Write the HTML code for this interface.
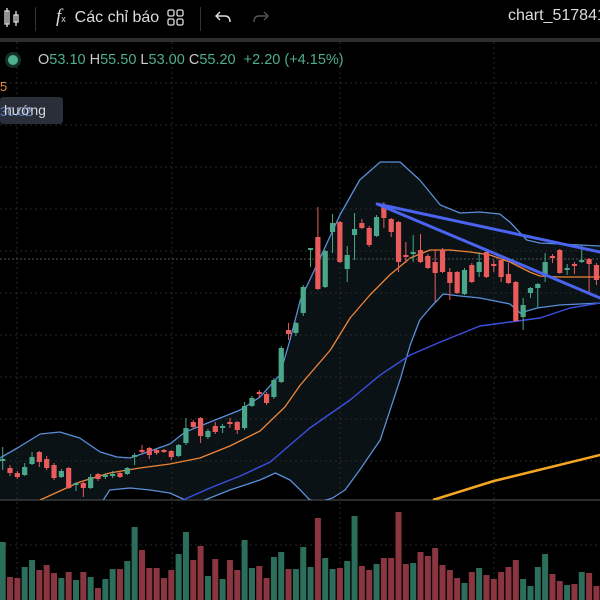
<!DOCTYPE html>
<html><head><meta charset="utf-8">
<style>
html,body{margin:0;padding:0;background:#000;width:600px;height:600px;overflow:hidden;font-family:"Liberation Sans","Noto Sans CJK SC",sans-serif}
#wrap{position:relative;width:600px;height:600px}
.t{position:absolute;white-space:nowrap}
</style></head>
<body>
<div id="wrap">
<svg id="chart" width="600" height="600" style="position:absolute;left:0;top:0"></svg>

<div class="t" style="left:0;top:0;width:600px;height:38px;background:#000"></div>
<div class="t" style="left:0;top:38px;width:600px;height:4px;background:#2e2e2e"></div>
<svg class="t" style="left:2px;top:6px" width="20" height="24">
 <rect x="3" y="5" width="4" height="13" fill="none" stroke="#ddd" stroke-width="1.3"/><line x1="5" y1="2" x2="5" y2="21" stroke="#ddd" stroke-width="1.3"/>
 <rect x="12" y="9" width="4" height="7" fill="none" stroke="#ddd" stroke-width="1.3"/><line x1="14" y1="5" x2="14" y2="20" stroke="#ddd" stroke-width="1.3"/>
</svg>
<div class="t" style="left:35px;top:7px;width:1px;height:24px;background:#333"></div>
<div class="t" style="left:56px;top:6px;color:#ddd;font-size:16px;line-height:22px"><span style="font-family:'Liberation Serif',serif;font-style:italic;font-size:19px">f</span><span style="font-size:9px">x</span>&nbsp;&nbsp;Các chỉ báo</div>
<svg class="t" style="left:166px;top:8px" width="20" height="20">
 <rect x="2" y="2" width="6" height="6" rx="1.5" fill="none" stroke="#ddd" stroke-width="1.3"/><rect x="11" y="2" width="6" height="6" rx="1.5" fill="none" stroke="#ddd" stroke-width="1.3"/>
 <rect x="2" y="11" width="6" height="6" rx="1.5" fill="none" stroke="#ddd" stroke-width="1.3"/><rect x="11" y="11" width="6" height="6" rx="1.5" fill="none" stroke="#ddd" stroke-width="1.3"/>
</svg>
<div class="t" style="left:200px;top:7px;width:1px;height:24px;background:#333"></div>
<svg class="t" style="left:214px;top:8px" width="20" height="20"><path d="M6 4 L2 8 L6 12 M2 8 H11 Q16 8 16 14" fill="none" stroke="#ddd" stroke-width="1.4"/></svg>
<svg class="t" style="left:250px;top:8px" width="20" height="20"><path d="M14 4 L18 8 L14 12 M18 8 H9 Q4 8 4 14" fill="none" stroke="#555" stroke-width="1.4"/></svg>
<div class="t" style="left:508px;top:6px;color:#ddd;font-size:16px;line-height:20px">chart_517841</div>

<div class="t" style="left:8px;top:55px;width:10px;height:10px;border-radius:50%;background:#4fb08f;box-shadow:0 0 0 3px #123027"></div>
<div class="t" style="left:38px;top:51px;font-size:14.5px;line-height:18px;color:#4fae8e"><span style="color:#ccc">O</span>53.10 <span style="color:#ccc">H</span>55.50 <span style="color:#ccc">L</span>53.00 <span style="color:#ccc">C</span>55.20 &nbsp;+2.20 (+4.15%)</div>
<div class="t" style="left:0;top:79px;font-size:13px;color:#e88a3a">5</div>
<div class="t" style="left:0;top:97px;width:63px;height:27px;background:#2a2e39;border-radius:3px;"></div>
<div class="t" style="left:0;top:104px;font-size:13px;color:#5b7fc8">30.02</div>
<div class="t" style="left:4px;top:102px;font-size:14px;color:#d8d8d8">hướng</div>
</div>

<script>
const opens=[35.0,34.3,33.8,33.6,34.7,35.9,35.2,34.6,33.4,34.3,32.6,32.8,32.3,33.7,33.4,33.5,33.8,33.7,35.4,36.1,36.3,36.1,36.1,36.0,35.5,36.8,38.9,39.3,37.4,38.5,38.3,38.9,38.9,38.3,40.5,41.9,41.7,41.4,42.9,48.1,47.8,49.8,56.1,57.4,52.4,57.9,58.9,54.2,57.6,58.8,58.3,57.5,60.6,59.2,58.9,55.6,55.7,56.1,55.5,54.9,56.1,53.9,53.9,51.7,54.6,53.9,55.9,54.7,55.1,53.7,52.9,49.4,51.8,52.3,53.6,55.5,56.1,54.1,54.7,54.9,55.2,54.6];
const highs=[36.4,34.6,34.0,34.8,35.9,36.0,35.5,34.8,34.2,34.4,32.9,32.9,33.7,33.8,33.8,34.0,34.0,34.4,35.8,36.6,36.4,36.2,36.2,36.1,36.7,39.3,39.1,39.4,38.2,38.9,38.7,39.3,39.0,40.9,41.5,42.1,41.9,43.3,46.5,48.8,48.9,52.6,56.3,60.4,56.1,59.7,59.0,56.5,59.8,59.2,58.5,59.6,60.9,59.3,59.0,56.9,57.6,57.7,55.7,56.1,56.3,54.3,54.0,54.3,54.8,55.9,56.1,55.1,55.3,54.8,53.0,51.3,52.4,52.8,55.8,55.7,56.2,54.7,54.9,56.6,55.3,54.8];
const lows=[34.1,33.5,33.2,33.5,34.6,34.4,34.1,33.1,33.3,32.2,32.0,31.4,32.2,33.0,33.2,33.3,33.3,33.6,34.6,35.7,35.2,35.6,35.8,35.1,35.4,36.6,38.2,36.8,37.2,37.7,37.8,38.3,37.7,38.1,40.4,41.3,40.6,41.2,42.8,47.1,47.5,49.5,54.4,52.1,52.3,55.8,54.8,52.9,55.1,58.2,56.4,57.4,58.3,57.4,53.9,54.8,54.9,54.8,54.2,50.9,53.8,51.1,51.7,51.6,52.8,53.4,53.3,53.9,52.9,52.7,48.9,48.1,51.3,50.3,52.9,54.8,53.7,53.6,53.7,54.8,51.8,52.6];
const closes=[35.2,33.8,33.4,34.4,35.4,34.9,34.3,33.3,34.0,32.3,32.8,32.3,33.4,33.2,33.6,33.7,33.4,34.3,35.6,35.9,35.6,35.8,35.9,35.4,36.6,38.3,38.4,37.5,38.0,37.9,38.5,38.7,38.1,40.5,41.3,41.7,40.8,43.1,46.3,47.7,48.8,52.4,56.3,52.2,56.0,58.8,54.9,55.6,58.2,58.3,56.6,59.4,59.3,57.9,54.9,55.4,55.9,54.9,54.3,53.8,53.9,52.8,51.8,54.1,52.9,54.9,53.4,54.5,53.4,52.8,49.0,50.6,52.3,52.7,54.9,55.3,53.8,54.3,54.5,55.1,54.7,53.1];
const volumes=[58,23,22,33,40,30,35,27,22,28,20,28,23,12,21,31,31,39,73,50,32,32,22,30,46,68,40,54,24,41,21,40,30,60,32,34,22,43,48,31,31,53,33,82,42,31,32,39,84,34,30,36,42,42,88,36,37,48,44,52,35,30,22,17,28,32,25,21,28,33,40,21,14,33,46,26,19,15,16,28,27,14];
const upperIdx=[-0.4,2,5.1,7.8,10.5,13.3,15.6,17.4,20.1,22.8,24.9,28.3,32.4,35.1,37.8,39.2,40.6,43.3,46,48.7,51.5,54.2,56.9,59.7,62.4,65.1,67.8,69.2,71.5,73.3,81.5];
const upperVal=[35.3,36.3,37.7,37.9,37.3,35.9,35.4,35.3,36.0,36.7,37.9,38.9,40.1,41.4,43.6,47.1,51.1,55.3,59.6,63.1,64.9,64.9,63.1,60.6,59.8,59.9,59.7,58.9,57.1,56.8,56.5];
const lowerIdx=[13.3,14.6,17.4,20.1,22.8,24.9,26.2,26.9,31,35.1,37.2,39.2,40.6,41.9,43.3,45,46.7,48.7,51.5,54.2,55.6,56.9,58.3,60.1,62.4,65.1,69.2,70.6,72.9,76,81.5];
const lowerVal=[30.6,32.1,32.3,32.1,31.8,31.1,30.5,30.9,32.1,33.1,33.8,33.1,32.1,31.1,30.9,31.3,32.1,34.1,37.1,43.1,46.6,49.1,50.3,51.7,51.5,51.3,50.7,49.8,50.3,50.6,50.8];
const ma20Idx=[5.1,7.8,10.5,14.6,18.7,22.8,26.9,31,35.1,38.5,40.6,44.7,47.4,50.1,52.8,55.6,58.3,61,63.8,66.5,69.2,71.9,73.3,76,81.5];
const ma20Val=[31.1,32.0,32.9,33.8,34.3,34.7,35.3,36.5,38.0,40.4,42.6,46.1,49.3,51.6,53.6,55.3,56.1,56.1,55.9,55.6,54.9,53.9,53.5,53.4,53.4];
const ma50Idx=[24.6,28.3,32.4,36.5,39.2,41.9,47.4,51.5,55.6,59.7,65.1,69.2,73.3,77.4,81.5];
const ma50Val=[31.1,32.3,33.5,34.9,36.6,38.3,41.1,43.6,45.6,46.9,48.5,48.9,49.3,50.3,50.8];
const ma200Idx=[58.7,67,81.5];
const ma200Val=[31.1,33.0,35.6];
const trendStart=[51.1,60.7];
const trendEnds=[[81.5,55.9],[81.5,51.3]];
const lastPrice=55.2;

const NS='http://www.w3.org/2000/svg';
const svg=document.getElementById('chart');
function xs(i){return 2.7+7.33*i;}
function ys(p){return (81.1-p)*10;}
function yv(v){return 600-v;}
function mk(tag,attrs,parent){const e=document.createElementNS(NS,tag);for(const k in attrs)e.setAttribute(k,attrs[k]);(parent||svg).appendChild(e);return e;}

const defs=mk('defs',{});
const cp=mk('clipPath',{id:'priceClip'},defs);
mk('rect',{x:0,y:42,width:600,height:458},cp);

const pg0=mk('g',{'clip-path':'url(#priceClip)'});
// band fill
(function(){
  let d=upperIdx.map(function(t,k){return (k?'L':'M')+xs(t).toFixed(1)+' '+ys(upperVal[k]).toFixed(1);}).join(' ');
  for(let k=lowerIdx.length-1;k>=0;k--){d+=' L'+xs(lowerIdx[k]).toFixed(1)+' '+ys(lowerVal[k]).toFixed(1);}
  d+=' L'+xs(upperIdx[0]).toFixed(1)+' 520 Z';
  const f=mk('path',{d:d,fill:'#0b1216',stroke:'none'},pg0);
  
  
})();

// grid
const grid=mk('g',{stroke:'#2a2a2a','stroke-dasharray':'2,3','stroke-width':1});


[83,125,167,209,251,293,335,377,419,461,545].forEach(function(gy){mk('line',{x1:0,x2:600,y1:gy,y2:gy},grid);});
[17,172,340,494].forEach(function(gx){mk('line',{x1:gx,x2:gx,y1:42,y2:600},grid);});

const sep=mk('line',{x1:0,x2:600,y1:500,y2:500,stroke:'#3a3a3a','stroke-width':1.5});



// volume
const vg=mk('g',{});


volumes.forEach(function(v,i){
  const up=closes[i]>=opens[i];
  const r=mk('rect',{x:xs(i)-3,y:yv(v),width:6,height:600-yv(v),fill:up?'#2b6e5c':'#8a3540'},vg);
  
  
});

const pg=mk('g',{'clip-path':'url(#priceClip)'});



function line(idx,val,color,w,name){
  const d=idx.map(function(t,k){return (k?'L':'M')+xs(t).toFixed(1)+' '+ys(val[k]).toFixed(1);}).join(' ');
  const p=mk('path',{d:d,fill:'none',stroke:color,'stroke-width':w,'stroke-linejoin':'round'},pg);
  
  
}
line(upperIdx,upperVal,'#5a8fd8',1.3,'bollinger-upper');
line(lowerIdx,lowerVal,'#5a8fd8',1.3,'bollinger-lower');
line(ma50Idx,ma50Val,'#3b4fe0',1.4,'ma50-line');
line(ma20Idx,ma20Val,'#ee8636',1.3,'ma20-line');
line(ma200Idx,ma200Val,'#f5a623',2.5,'ma200-line');

const pl=mk('line',{x1:0,x2:600,y1:ys(lastPrice),y2:ys(lastPrice),stroke:'#4a5a55','stroke-dasharray':'2,2','stroke-width':1},pg);



opens.forEach(function(o,i){
  const c=closes[i],up=c>=o,col=up?'#4aa88a':'#ea5b5b';
  const g=mk('g',{},pg);
  
  
  mk('line',{x1:xs(i),x2:xs(i),y1:ys(highs[i]),y2:ys(lows[i]),stroke:col,'stroke-width':1},g);
  const top=ys(Math.max(o,c)),bot=ys(Math.min(o,c));
  mk('rect',{x:xs(i)-2.6,y:top,width:5.2,height:Math.max(1.2,bot-top),fill:col},g);
});

trendEnds.forEach(function(e){
  const l=mk('line',{x1:xs(trendStart[0]),y1:ys(trendStart[1]),x2:xs(e[0]),y2:ys(e[1]),stroke:'#4a64f0','stroke-width':3,'stroke-linecap':'round'},pg);
  
  
});
</script>
</body></html>
